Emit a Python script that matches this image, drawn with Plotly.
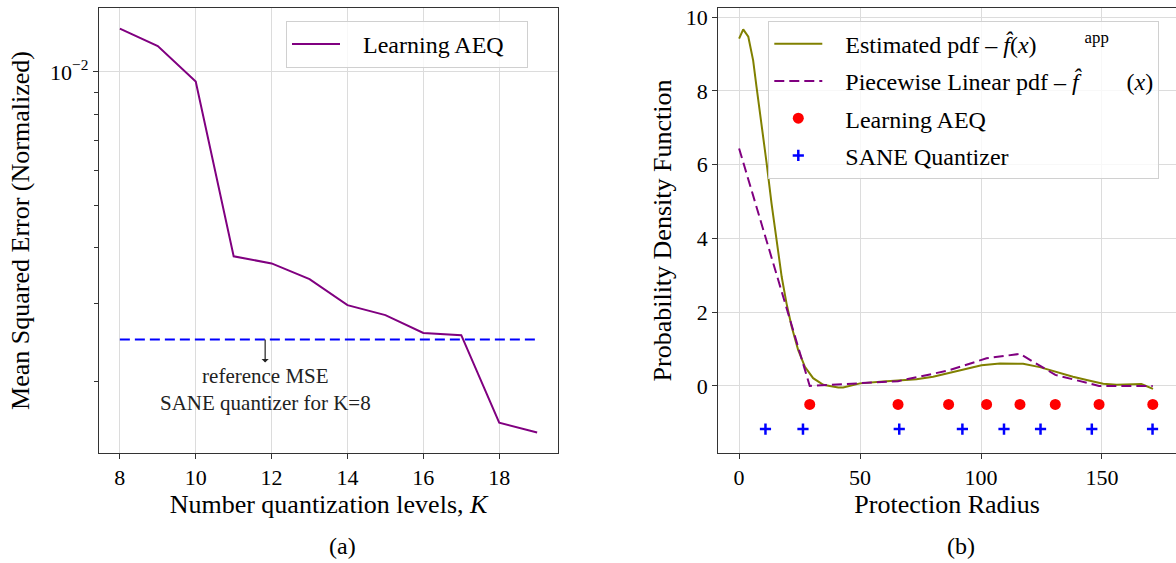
import plotly.graph_objects as go
import math

# ---------------- data: left panel ----------------
K_levels = [8, 9, 10, 11, 12, 13, 14, 15, 16, 17, 18, 19]
mse_learning_aeq = [0.01253, 0.01145, 0.00951, 0.00383, 0.00369, 0.00340,
                    0.00297, 0.00282, 0.00257, 0.00254, 0.00161, 0.00153]
ref_mse_sane = 0.002483
ref_x = [8, 19]

# ---------------- data: right panel ----------------
est_x = [0, 1.7, 3.8, 5.8, 7.2, 9.3, 11.4, 13.4, 15.5, 17.6, 19.6, 21.7, 24.4, 27.2,
         30.6, 34.8, 37.5, 41, 43, 50, 59.5, 66.4, 73.3, 80.2, 87.1, 94, 100.2,
         107.8, 111.9, 117.4, 124.3, 131.2, 138, 145, 150.5, 156, 161.5, 166.3, 171.1]
est_pdf = [9.42, 9.67, 9.47, 8.83, 8.11, 7.12, 6.03, 4.95, 3.96, 2.96, 2.24, 1.61, 0.98, 0.52,
           0.21, 0.03, 0.0, -0.04, -0.04, 0.07, 0.12, 0.14, 0.18, 0.25, 0.36, 0.48, 0.56,
           0.61, 0.61, 0.60, 0.51, 0.38, 0.25, 0.14, 0.06, 0.03, 0.04, 0.05, -0.08]
pw_x = [0, 29.2, 65.7, 86.6, 102.3, 116.1, 130.7, 148.8, 171.0]
pw_pdf = [6.44, 0.0, 0.13, 0.42, 0.75, 0.87, 0.30, 0.0, 0.0]
aeq_x = [29.2, 65.7, 86.6, 102.3, 116.1, 130.7, 148.8, 171.0]
aeq_y = [-0.5] * 8
sane_x = [10.9, 26.4, 66.2, 92.3, 109.5, 124.6, 145.8, 170.9]
sane_y = [-1.17] * 8

SERIF = "Liberation Serif, DejaVu Serif, serif"
W, H = 1176, 563
GRID = "#dcdcdc"
SPINE = "#333333"
NB = "\u00a0"

def px_x(p):
    return p / W

def px_y(p):
    return 1 - p / H

fig = go.Figure()

# left panel
fig.add_trace(go.Scatter(x=K_levels, y=mse_learning_aeq, mode="lines",
                         name=NB * 3 + "Learning AEQ" + NB * 3,
                         line=dict(color="#800080", width=2), xaxis="x", yaxis="y",
                         legend="legend"))
fig.add_trace(go.Scatter(x=ref_x, y=[ref_mse_sane, ref_mse_sane], mode="lines", showlegend=False,
                         line=dict(color="#0000ff", width=2, dash="10px,5px"), xaxis="x", yaxis="y"))

# right panel
fig.add_trace(go.Scatter(x=est_x, y=est_pdf, mode="lines",
                         name=NB * 3 + "Estimated pdf – <i>f̂</i>(<i>x</i>)" + NB * 8 + "<sup>app</sup>",
                         line=dict(color="#808000", width=2), xaxis="x2", yaxis="y2",
                         legend="legend2", legendgroup="g1"))
fig.add_trace(go.Scatter(x=pw_x, y=pw_pdf, mode="lines",
                         name=NB * 3 + "Piecewise Linear pdf – <i>f̂</i>" + NB * 8 + "(<i>x</i>)",
                         line=dict(color="#800080", width=2, dash="10px,5px"), xaxis="x2", yaxis="y2",
                         legend="legend2", legendgroup="g2"))
fig.add_trace(go.Scatter(x=aeq_x, y=aeq_y, mode="markers", name=NB * 3 + "Learning AEQ",
                         marker=dict(color="#ff0000", size=11, symbol="circle"),
                         xaxis="x2", yaxis="y2", legend="legend2", legendgroup="g3"))
fig.add_trace(go.Scatter(x=sane_x, y=sane_y, mode="markers", name=NB * 3 + "SANE Quantizer",
                         marker=dict(color="#0000ff", size=8, symbol="cross-thin",
                                     line=dict(color="#0000ff", width=2.5)),
                         xaxis="x2", yaxis="y2", legend="legend2", legendgroup="g4"))

axis_common = dict(showline=True, linecolor=SPINE, linewidth=1.25, ticks="outside",
                   ticklen=5, tickcolor=SPINE, tickwidth=1.25, showgrid=True, gridcolor=GRID,
                   gridwidth=1, zeroline=False, tickfont=dict(family=SERIF, size=22, color="black"))

ydom = [px_y(452.7), px_y(8.3)]

fig.update_layout(
    width=W, height=H, paper_bgcolor="white", plot_bgcolor="white",
    margin=dict(l=0, r=0, t=0, b=0, autoexpand=False),
    font=dict(family=SERIF, color="black"),
    xaxis=dict(domain=[px_x(99), px_x(558)], range=[7.45, 19.55], tickvals=[8, 10, 12, 14, 16, 18],
               mirror=True, anchor="y",
               title=dict(text="Number quantization levels, <i>K</i>", font=dict(size=26), standoff=0),
               **axis_common),
    yaxis=dict(domain=ydom, type="log", range=[-2.861, -1.856], tickvals=[0.01],
               ticktext=["10<sup>−2</sup>"], mirror=True, anchor="x",
               minor=dict(tickvals=[0.002, 0.003, 0.004, 0.005, 0.006, 0.007, 0.008, 0.009],
                          ticks="outside", ticklen=3.5, tickcolor=SPINE, tickwidth=1, showgrid=False),
               title=dict(text="Mean Squared Error (Normalized)", font=dict(size=26), standoff=12),
               **axis_common),
    xaxis2=dict(domain=[px_x(718.3), 1.0], range=[-8.6, 180.6], tickvals=[0, 50, 100, 150],
                mirror=True, anchor="y2",
                title=dict(text="Protection Radius", font=dict(size=26), standoff=0),
                **axis_common),
    yaxis2=dict(domain=ydom, range=[-1.81, 10.24], tickvals=[0, 2, 4, 6, 8, 10],
                mirror=False, anchor="x2",
                title=dict(text="Probability Density Function", font=dict(size=26), standoff=6),
                **axis_common),
    legend=dict(x=px_x(286), y=px_y(21), xanchor="left", yanchor="top",
                bgcolor="rgba(255,255,255,0.8)", bordercolor="#d0d0d0", borderwidth=1,
                font=dict(family=SERIF, size=24, color="black"), itemwidth=48),
    legend2=dict(x=px_x(768.3), y=px_y(20.7), xanchor="left", yanchor="top",
                 bgcolor="rgba(255,255,255,0.8)", bordercolor="#d0d0d0", borderwidth=1,
                 font=dict(family=SERIF, size=24, color="black"), itemwidth=48,
                 tracegroupgap=3, traceorder="grouped"),
    annotations=[
        dict(x=11.83, y=math.log10(ref_mse_sane), xref="x", yref="y", ax=0, ay=50,
             showarrow=True, arrowside="start", arrowhead=2, arrowsize=1, arrowwidth=1.2,
             arrowcolor="#222222",
             text="reference MSE<br>SANE quantizer for K=8",
             font=dict(family=SERIF, size=21, color="#222222"), align="center"),
        dict(x=px_x(342), y=px_y(546), xref="paper", yref="paper", showarrow=False,
             xanchor="center", yanchor="middle", text="(a)",
             font=dict(family=SERIF, size=24, color="black")),
        dict(x=px_x(961), y=px_y(546), xref="paper", yref="paper", showarrow=False,
             xanchor="center", yanchor="middle", text="(b)",
             font=dict(family=SERIF, size=24, color="black")),
    ],
)

fig.write_html("out.html", config={"displayModeBar": False})
